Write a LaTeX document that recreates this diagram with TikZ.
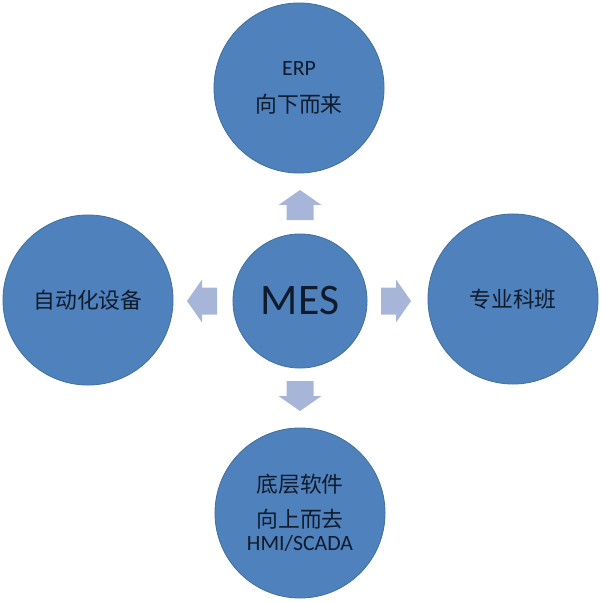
\documentclass[tikz,border=0pt]{standalone}
\usepackage{fontspec}
\setmainfont{Carlito}
\newfontfamily\cjk{Noto Sans CJK SC}
\definecolor{circblue}{HTML}{4F81BD}
\definecolor{circedge}{HTML}{41719C}
\definecolor{arrowblue}{HTML}{A7B6D8}
\definecolor{inkdark}{HTML}{101B2C}
\tikzset{
  spoke/.style={circle,fill=circblue,draw=circedge,line width=0.6pt,minimum size=4.25cm,inner sep=0pt,
    align=center,text=inkdark,font=\fontsize{15.5}{19}\selectfont},
  hub/.style={spoke,minimum size=3.35cm,font=\fontsize{31}{36}\selectfont},
  blockarrow/.style={fill=arrowblue,draw=none}
}
\begin{document}
\begin{tikzpicture}[x=0.025cm,y=-0.025cm]
\useasboundingbox (0,0) rectangle (600,603);
\node[hub] (mes) at (300,301) {MES};
\node[spoke] (erp) at (299,88) {ERP\\[7pt]{\cjk 向下而来}};
\node[spoke] (auto) at (88,300) {\cjk 自动化设备};
\node[spoke] (major) at (513,299) {\cjk 专业科班};
\node[spoke] (base) at (300,513) {{\cjk 底层软件}\\[5.8pt]{\cjk 向上而去}\\[-2.7pt]HMI/SCADA};
\foreach \ang/\dist in {0/96, 90/96, 180/98, 270/95}{
  \begin{scope}[shift={(mes.center)},rotate=\ang]
    \fill[blockarrow] (\dist-15,-13.5) -- (\dist,-13.5) -- (\dist,-21.5) -- (\dist+15,0)
      -- (\dist,21.5) -- (\dist,13.5) -- (\dist-15,13.5) -- cycle;
  \end{scope}
}
\end{tikzpicture}
\end{document}
